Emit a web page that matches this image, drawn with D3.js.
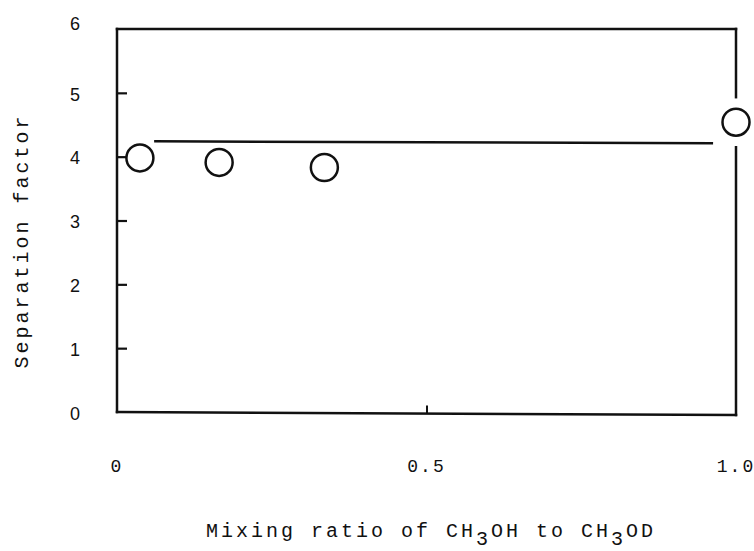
<!DOCTYPE html>
<html>
<head>
<meta charset="utf-8">
<script src="https://cdn.jsdelivr.net/npm/d3@7"></script>
<style>
  html, body { margin: 0; padding: 0; background: #fff; }
  svg { display: block; }
</style>
</head>
<body>
<svg id="chart" width="754" height="551"></svg>
<script>
// ---- data ----
const mixingRatio = [0.037, 0.165, 0.335, 1.0];
const separationFactor = [3.98, 3.91, 3.83, 4.54];
const fitLineX = [0.06, 0.963];
const fitLineY = [4.24, 4.21];
const yTicks = [0, 1, 2, 3, 4, 5, 6];
const xTickValues = [0, 0.5, 1.0];
const xTickLabels = ["0", "0.5", "1.0"];
const yTitle = "Separation factor";

// ---- layout ----
const svg = d3.select("#chart");
const x = d3.scaleLinear().domain([0, 1]).range([117, 736]);
const y = d3.scaleLinear().domain([0, 6]).range([412, 29]);
const ink = "#111";
const sw = 2.5;

// frame: left, top, bottom
const g = svg.append("g");
g.append("line").attr("x1", x(0)).attr("x2", x(0)).attr("y1", y(6)).attr("y2", y(0))
  .attr("stroke", ink).attr("stroke-width", sw).attr("stroke-linecap", "square");
g.append("line").attr("x1", x(0)).attr("x2", x(1)).attr("y1", y(6)).attr("y2", y(6))
  .attr("stroke", ink).attr("stroke-width", sw).attr("stroke-linecap", "square");
g.append("line").attr("x1", x(0)).attr("x2", x(1)).attr("y1", y(0)).attr("y2", y(0) + 3)
  .attr("stroke", ink).attr("stroke-width", sw).attr("stroke-linecap", "square");

// right border with a gap around the point at x = 1
const lastY = y(separationFactor[separationFactor.length - 1]);
const gapHalf = 25;
g.append("line").attr("x1", x(1)).attr("x2", x(1)).attr("y1", y(6)).attr("y2", lastY - gapHalf)
  .attr("stroke", ink).attr("stroke-width", sw).attr("stroke-linecap", "square");
g.append("line").attr("x1", x(1)).attr("x2", x(1)).attr("y1", lastY + gapHalf).attr("y2", y(0) + 3)
  .attr("stroke", ink).attr("stroke-width", sw).attr("stroke-linecap", "square");

// y ticks (inward) + labels
const yAxis = d3.axisRight(y).tickValues(yTicks.filter(d => d > 0 && d < 6)).tickSize(10).tickFormat("");
const ya = g.append("g").attr("transform", `translate(${x(0)},0)`).call(yAxis);
ya.select(".domain").remove();
ya.selectAll(".tick line").attr("stroke", ink).attr("stroke-width", 2.2);

g.selectAll(".ylab").data(yTicks).enter().append("text")
  .attr("class", "ylab")
  .attr("x", 75).attr("y", d => y(d) + (d === 6 ? -4 : 3))
  .attr("text-anchor", "middle").attr("dominant-baseline", "middle")
  .attr("font-family", "Liberation Sans, Arial, sans-serif").attr("font-size", 18)
  .attr("fill", ink).text(d => d);

// x tick (inward at 0.5)
const xAxis = d3.axisTop(x).tickValues([0.5]).tickSize(8).tickFormat("");
const xa = g.append("g").attr("transform", `translate(0,${y(0) + 1.5})`).call(xAxis);
xa.select(".domain").remove();
xa.selectAll(".tick line").attr("stroke", ink).attr("stroke-width", 2);

g.selectAll(".xlab").data(xTickValues).enter().append("text")
  .attr("class", "xlab")
  .attr("x", d => x(d)).attr("y", 472)
  .attr("text-anchor", "middle")
  .attr("font-family", "Liberation Mono, monospace").attr("font-size", 18)
  .attr("letter-spacing", 2)
  .attr("fill", ink).text((d, i) => xTickLabels[i]);

// fitted horizontal line
const line = d3.line().x(d => x(d[0])).y(d => y(d[1]));
g.append("path").datum(fitLineX.map((v, i) => [v, fitLineY[i]]))
  .attr("d", line).attr("fill", "none").attr("stroke", ink).attr("stroke-width", 2.5);

// points: open circles
g.selectAll(".pt").data(mixingRatio).enter().append("circle")
  .attr("class", "pt")
  .attr("cx", d => x(d)).attr("cy", (d, i) => y(separationFactor[i]))
  .attr("r", 13.5).attr("fill", "#fff").attr("stroke", ink).attr("stroke-width", 2.5);

// axis titles
const monoFont = "Liberation Mono, DejaVu Sans Mono, monospace";
const xt = g.append("text")
  .attr("x", 431).attr("y", 537)
  .attr("text-anchor", "middle")
  .attr("font-family", monoFont).attr("font-size", 20).attr("letter-spacing", 3)
  .attr("fill", ink);
const xTitleParts = [["Mixing ratio of CH", 0], ["3", 8], ["OH to CH", -8], ["3", 8], ["OD", -8]];
xTitleParts.forEach(([t, dy]) => { xt.append("tspan").attr("dy", dy).text(t); });

g.append("text")
  .attr("transform", `translate(28,241) rotate(-90)`)
  .attr("text-anchor", "middle")
  .attr("font-family", monoFont).attr("font-size", 20).attr("letter-spacing", 3)
  .attr("fill", ink).text(yTitle);
</script>
</body>
</html>
